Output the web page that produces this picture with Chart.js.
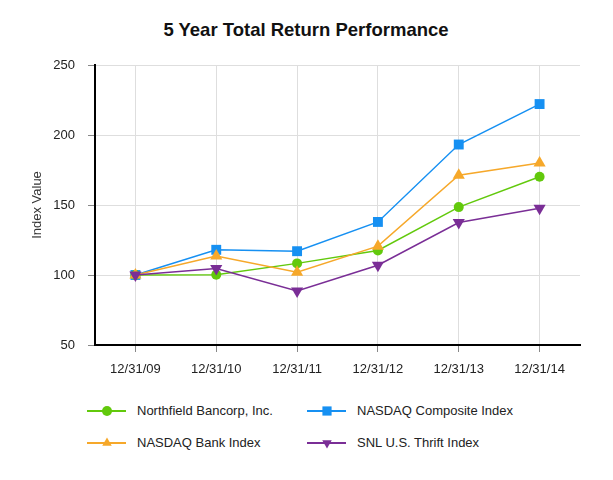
<!DOCTYPE html>
<html>
<head>
<meta charset="utf-8">
<script src="https://cdn.jsdelivr.net/npm/chart.js@4"></script>
<style>
  body { margin: 0; background: #fff; font-family: 'Liberation Sans', Arial, sans-serif; }
  #wrap { position: relative; width: 613px; height: 480px; }
  #chart { position: absolute; left: 0; top: 0; }
  #title { position: absolute; left: 0; width: 612px; top: 19px; text-align: center;
           font-size: 18.5px; font-weight: bold; color: #111; line-height: 22px; }
  .leg { position: absolute; font-size: 13px; color: #222; line-height: 16px; white-space: nowrap; }
  .leg canvas { position: absolute; left: 0; top: -1px; }
  .leg span { position: absolute; left: 50px; top: 0; }
</style>
</head>
<body>
<div id="wrap">
  <div id="title">5 Year Total Return Performance</div>
  <canvas id="chart" width="613" height="395"></canvas>
  <div id="legend"></div>
</div>
<script>
// categories and values
const years = ['12/31/09', '12/31/10', '12/31/11', '12/31/12', '12/31/13', '12/31/14'];
const northfield = [100, 100.2, 108.3, 117.5, 148.5, 170.2];
const nasdaqComposite = [100, 118.0, 117.0, 137.9, 193.2, 222.1];
const nasdaqBank = [100, 113.5, 102.0, 120.6, 171.3, 180.0];
const snlThrift = [100, 104.6, 88.6, 107.0, 137.5, 147.6];
const yTicks = [50, 100, 150, 200, 250];

const FONT = "'Liberation Sans', Arial, sans-serif";

const series = [
    { label: 'Northfield Bancorp, Inc.', data: northfield, color: '#62c90c', style: 'circle', radius: 5, rot: 0, legRadius: 5 },
    { label: 'NASDAQ Composite Index', data: nasdaqComposite, color: '#1690f2', style: 'rect', radius: 7, rot: 0, legRadius: 6.5 },
    { label: 'NASDAQ Bank Index', data: nasdaqBank, color: '#f6a82a', style: 'triangle', radius: 7, rot: 0, legRadius: 5.5 },
    { label: 'SNL U.S. Thrift Index', data: snlThrift, color: '#7a2e96', style: 'triangle', radius: 7, rot: 180, legRadius: 5.5 }
];

// draw order: thrift at back, composite on top
const drawOrder = [3, 2, 0, 1];

const chart = new Chart(document.getElementById('chart').getContext('2d'), {
    type: 'line',
    data: {
        labels: years,
        datasets: series.map((s, i) => ({
            label: s.label,
            data: s.data,
            borderColor: s.color,
            backgroundColor: s.color,
            borderWidth: 1.5,
            pointStyle: s.style,
            pointRadius: s.radius,
            pointRotation: s.rot,
            pointBorderWidth: 0,
            tension: 0,
            order: drawOrder.indexOf(i)
        }))
    },
    options: {
        responsive: false,
        animation: false,
        layout: { padding: { left: 0, right: 33, top: 65, bottom: 0 } },
        plugins: {
            legend: { display: false },
            tooltip: { enabled: false }
        },
        scales: {
            x: {
                offset: true,
                grid: { offset: false, color: '#dedede', lineWidth: 1, tickLength: 7, tickColor: '#888' },
                border: { color: '#000', width: 2 },
                ticks: { color: '#222', font: { family: FONT, size: 13 }, padding: 10, maxRotation: 0 },
                afterFit(scale) { scale.height = 50; scale.paddingLeft = 0; scale.paddingRight = 0; }
            },
            y: {
                min: 50,
                max: 250,
                afterBuildTicks(scale) { scale.ticks = yTicks.map(v => ({ value: v })); },
                grid: { color: '#dedede', lineWidth: 1, tickLength: 7, tickColor: '#888' },
                border: { color: '#000', width: 2 },
                ticks: { color: '#222', font: { family: FONT, size: 13 }, padding: 13 },
                title: {
                    display: true,
                    text: 'Index Value',
                    color: '#333',
                    font: { family: FONT, size: 13 },
                    padding: { top: 30, bottom: 0 }
                },
                afterFit(scale) { scale.width = 95; scale.paddingTop = 0; scale.paddingBottom = 0; }
            }
        }
    }
});

// legend: two columns, line with marker
const legendPos = [
    { x: 87, y: 403 },
    { x: 307, y: 403 },
    { x: 87, y: 435 },
    { x: 307, y: 435 }
];

function drawIcon(cv, s) {
    const ctx = cv.getContext('2d');
    ctx.strokeStyle = s.color;
    ctx.lineWidth = 2;
    ctx.beginPath();
    ctx.moveTo(0, 9);
    ctx.lineTo(39, 9);
    ctx.stroke();
    ctx.fillStyle = s.color;
    Chart.helpers.drawPoint(ctx, {
        pointStyle: s.style,
        radius: s.legRadius,
        rotation: s.rot,
        borderWidth: 0
    }, 20, 9);
}

const legendEl = document.getElementById('legend');
series.forEach((s, i) => {
    const item = document.createElement('div');
    item.className = 'leg';
    item.style.left = legendPos[i].x + 'px';
    item.style.top = legendPos[i].y + 'px';
    const cv = document.createElement('canvas');
    cv.width = 40;
    cv.height = 18;
    item.appendChild(cv);
    const txt = document.createElement('span');
    txt.textContent = s.label;
    item.appendChild(txt);
    legendEl.appendChild(item);
    drawIcon(cv, s);
});
</script>
</body>
</html>
